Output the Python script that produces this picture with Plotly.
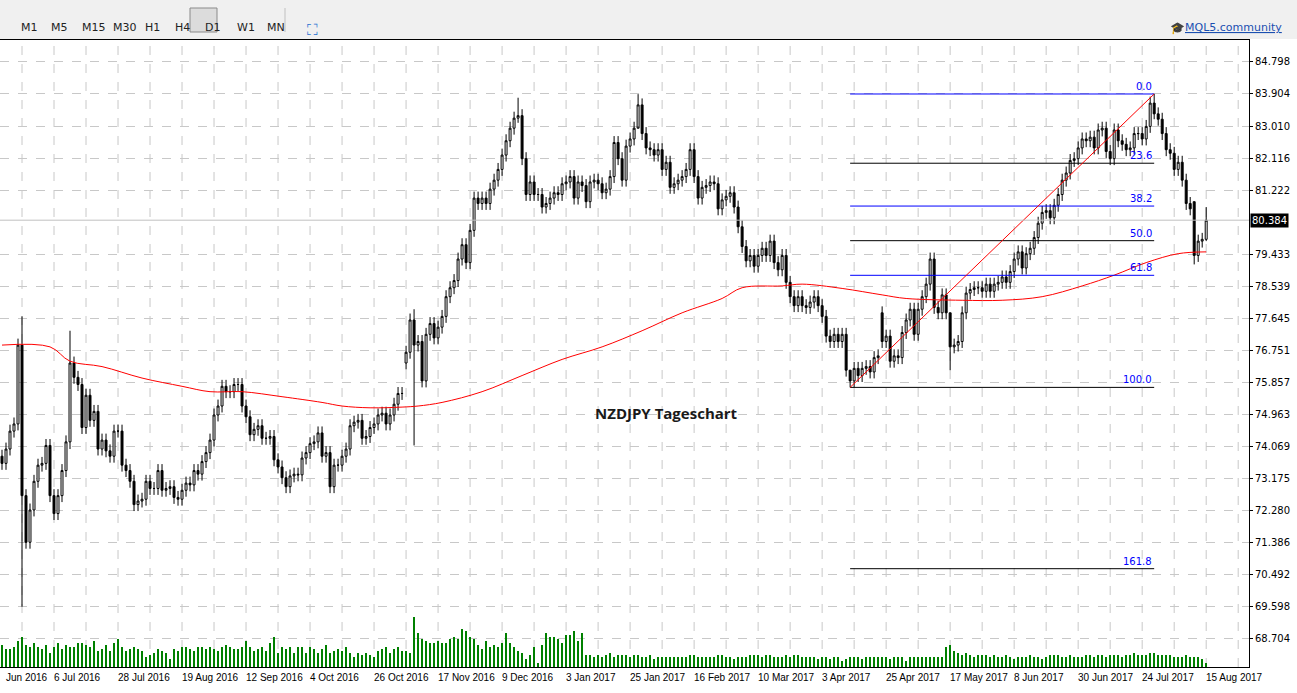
import plotly.graph_objects as go

closes = [73.6,74.0,74.5,74.7,76.9,72.7,71.4,72.3,73.1,73.55,
73.6,74.1,72.7,72.2,72.7,73.4,74.2,76.4,76.0,75.8,
74.6,75.5,74.8,75.05,74.0,74.25,73.95,73.8,74.5,74.5,
73.55,73.4,73.1,72.45,72.55,72.6,73.1,72.9,72.9,73.4,
72.85,72.9,72.95,72.65,72.6,72.85,73.05,73.0,73.4,73.3,
73.65,73.9,74.25,74.95,75.2,75.75,75.6,75.6,75.8,75.8,
75.2,74.9,74.4,74.55,74.65,74.3,74.3,74.35,73.7,73.5,
73.2,72.95,73.25,73.3,73.28,73.75,73.9,74.15,74.2,74.45,
73.8,73.9,72.95,73.55,73.55,73.8,74.0,74.65,74.75,74.8,
74.3,74.35,74.6,74.7,74.95,75.0,74.7,74.95,75.25,75.55,
75.55,76.7,77.6,76.9,77.0,75.9,77.2,77.5,77.1,77.4,
77.7,78.25,78.5,78.7,79.3,79.7,79.2,80.1,81.0,80.85,
81.0,80.85,81.25,81.5,81.8,82.2,82.6,82.95,83.23,83.3,
82.1,81.1,81.45,81.1,81.1,80.75,80.85,81.0,81.15,81.1,
81.4,81.45,81.6,81.0,81.45,81.35,80.9,81.45,81.5,81.4,
81.15,81.25,81.6,82.55,82.1,81.5,82.45,82.65,82.95,83.6,
82.8,82.4,82.35,82.2,82.35,81.8,82.0,81.3,81.4,81.5,
81.6,81.8,82.35,81.6,81.0,81.3,81.35,81.45,81.4,80.7,
80.95,81.05,81.15,80.75,80.2,79.65,79.25,79.4,79.1,79.4,
79.6,79.4,79.8,79.2,79.0,79.4,78.65,78.25,78.0,78.25,
78.0,77.95,78.1,78.25,78.0,77.7,77.15,77.0,77.2,77.0,
77.2,76.2,75.9,76.25,76.05,76.25,76.3,76.15,76.55,76.6,
77.0,77.15,76.45,76.6,76.55,77.25,77.6,77.9,77.2,77.9,
78.25,78.6,79.3,77.95,77.8,78.3,77.8,76.85,76.9,77.0,
77.8,78.35,78.45,78.5,78.5,78.4,78.6,78.4,78.6,78.65,
78.8,78.65,78.95,79.3,79.5,79.05,79.45,79.6,79.9,80.3,
80.6,80.65,80.45,80.8,81.1,81.5,81.7,82.05,82.1,82.4,
82.65,82.6,82.7,82.4,82.9,82.95,82.3,82.1,82.9,82.6,
82.5,82.35,82.4,82.8,82.8,82.65,83.0,83.65,83.35,83.2,
82.8,82.35,82.25,81.8,82.0,81.5,80.85,80.7,79.4,79.8,
79.85,80.384]

open_overrides = {0: 73.8, 4: 74.7, 17: 74.2, 101: 76.4, 105: 77.0, 106: 75.9, 130: 83.3,
                  153: 81.6, 220: 77.8, 233: 79.3, 236: 78.3, 298: 80.9}
extreme_overrides = {5: (77.7, 69.6), 103: (77.9, 74.1), 17: (77.3, 74.0), 212: (75.9, 75.72),
                     288: (83.904, 83.2), 237: (77.8, 76.2), 298: (80.9, 79.15),
                     159: (83.9, 83.0), 129: (83.8, 83.1), 301: (80.75, 79.8)}

volumes = [22,18,18,20,26,30,22,20,24,20,18,22,14,20,24,18,22,20,20,24,
24,22,20,26,16,18,22,16,24,28,20,16,18,20,18,16,10,12,14,18,
16,14,8,18,16,20,20,18,16,20,20,18,20,18,16,20,22,20,18,18,
20,26,20,16,18,20,16,24,30,14,20,18,20,14,20,20,14,20,18,14,
18,22,14,16,18,16,20,14,10,14,12,14,12,10,16,18,20,14,18,20,
16,16,14,50,34,28,26,24,24,26,24,24,28,30,28,38,36,30,28,22,
18,26,20,22,20,24,34,24,20,16,14,8,12,20,4,22,34,30,30,28,
24,32,32,36,26,34,12,12,10,12,10,12,14,10,12,12,12,10,12,12,
10,10,12,8,10,10,10,10,10,10,10,10,12,12,10,10,10,10,10,12,
12,10,10,8,10,10,10,12,12,12,10,12,12,10,10,10,12,10,12,12,
10,10,10,10,8,10,10,8,10,10,6,8,10,10,10,8,10,10,10,10,
10,10,8,10,10,10,6,10,10,10,10,10,10,10,10,10,20,22,16,14,
12,14,12,10,12,12,12,10,12,10,10,12,10,8,10,10,10,12,10,10,
8,10,12,12,12,10,10,12,10,10,10,12,12,10,12,12,10,12,12,12,
10,12,12,14,12,12,12,14,14,12,12,12,12,10,10,10,12,10,10,10,8,4]

ma_idx = [0,12,17,25,35,45,52,60,70,80,85,92,100,104,110,120,130,140,150,160,170,180,185,
          195,200,210,220,226,240,250,260,270,278,286,294,301]
ma_val = [76.9,76.85,76.45,76.3,75.98,75.75,75.6,75.6,75.46,75.3,75.2,75.15,75.17,75.2,75.3,
          75.6,76.05,76.5,76.85,77.3,77.8,78.2,78.5,78.55,78.6,78.48,78.3,78.2,78.15,78.15,
          78.25,78.55,78.85,79.2,79.45,79.5]

fib_low, fib_high = 75.72, 83.904
fib_start, fib_end = 212, 288
fib_levels = [0.0, 23.6, 38.2, 50.0, 61.8, 100.0, 161.8]
fib_colors = ["#0000ff", "#000000", "#0000ff", "#000000", "#0000ff", "#000000", "#000000"]

tick_idx = [13 + 16 * k for k in range(19)]
tick_text = ["6 Jul 2016", "28 Jul 2016", "19 Aug 2016", "12 Sep 2016", "4 Oct 2016",
             "26 Oct 2016", "17 Nov 2016", "9 Dec 2016", "3 Jan 2017", "25 Jan 2017",
             "16 Feb 2017", "10 Mar 2017", "3 Apr 2017", "25 Apr 2017", "17 May 2017",
             "8 Jun 2017", "30 Jun 2017", "24 Jul 2017", "15 Aug 2017"]
y_ticks = [84.798, 83.904, 83.010, 82.116, 81.222, 79.433, 78.539, 77.645, 76.751,
           75.857, 74.963, 74.069, 73.175, 72.280, 71.386, 70.492, 69.598, 68.704]
last_price = 80.384

n = len(closes)
x = list(range(n))
opens, highs, lows = [], [], []
for i in range(n):
    o = open_overrides.get(i, closes[i - 1] if i > 0 else closes[0])
    opens.append(o)
    if i in extreme_overrides:
        h, l = extreme_overrides[i]
    else:
        h, l = max(o, closes[i]) + 0.18, min(o, closes[i]) - 0.18
    highs.append(h)
    lows.append(l)

fig = go.Figure()
fig.add_trace(go.Bar(x=x, y=volumes, yaxis="y2", marker=dict(color="#008000", line=dict(width=0)),
                     width=0.25, showlegend=False, hoverinfo="skip"))
fig.add_trace(go.Candlestick(x=x, open=opens, high=highs, low=lows, close=closes,
                             increasing=dict(line=dict(color="black", width=1), fillcolor="white"),
                             decreasing=dict(line=dict(color="black", width=1), fillcolor="black"),
                             whiskerwidth=0, showlegend=False))
fig.add_trace(go.Scatter(x=ma_idx, y=ma_val, mode="lines", line=dict(color="#ff0000", width=1),
                         showlegend=False, line_shape="spline"))

shapes, annots = [], []
rng = fib_high - fib_low
for lv, col in zip(fib_levels, fib_colors):
    yv = fib_high - rng * lv / 100
    shapes.append(dict(type="line", x0=fib_start, x1=fib_end, y0=yv, y1=yv, xref="x", yref="y",
                       line=dict(color=col, width=1)))
    annots.append(dict(x=fib_end, y=yv, xref="x", yref="y", text=f"{lv:.1f}", showarrow=False,
                       xanchor="right", yanchor="bottom", font=dict(color="#0000ff", size=10,
                       family="DejaVu Sans")))
shapes.append(dict(type="line", x0=fib_start, x1=fib_end, y0=fib_low, y1=fib_high,
                   line=dict(color="#ff0000", width=1)))
shapes.append(dict(type="line", x0=0, x1=1, xref="paper", y0=last_price, y1=last_price, yref="y",
                   line=dict(color="#c0c0c0", width=1)))
for t in range(5, 320, 8):
    shapes.append(dict(type="line", x0=t, x1=t, y0=0, y1=1, xref="x", yref="paper",
                       line=dict(color="#c8c8c8", width=1, dash="dash"), layer="below"))
for t, lab in zip(tick_idx, tick_text):
    annots.append(dict(x=t, y=0, xref="x", yref="paper", text=lab,
                       showarrow=False, xanchor="left", yanchor="top", xshift=-2, yshift=-3,
                       font=dict(size=10, family="Liberation Sans", color="black")))
annots.append(dict(x=0.6, y=0, xref="x", yref="paper", text="Jun 2016", showarrow=False,
                   xanchor="left", yanchor="top", yshift=-3,
                   font=dict(size=10, family="Liberation Sans", color="black")))
annots.append(dict(x=1.001, y=last_price, xref="paper", yref="y", text="80.384", showarrow=False,
                   xanchor="left", bgcolor="black", borderpad=1,
                   font=dict(color="white", size=10, family="DejaVu Sans")))
annots.append(dict(x=166, y=75.01, xref="x", yref="y", text="<b>NZDJPY Tageschart</b>", showarrow=False,
                   font=dict(size=15, family="Open Sans", color="#1a1a1a")))

# toolbar
H = 627.0
def py(p):
    return (667 - p) / H
W = 1249.0
btns = [("M1", 19), ("M5", 49), ("M15", 80), ("M30", 111), ("H1", 143), ("H4", 173),
        ("D1", 203), ("W1", 235), ("MN", 265)]
shapes.append(dict(type="rect", x0=0, x1=1297 / W, y0=py(39), y1=py(0), xref="paper", yref="paper",
                   fillcolor="#f0f0f0", line=dict(width=0), layer="below"))
shapes.append(dict(type="rect", x0=190 / W, x1=217 / W, y0=py(32), y1=py(8), xref="paper",
                   yref="paper", fillcolor="#dcdcdc", line=dict(color="#8a8a8a", width=1)))
shapes.append(dict(type="line", x0=285 / W, x1=285 / W, y0=py(32), y1=py(8), xref="paper",
                   yref="paper", line=dict(color="#c0c0c0", width=1)))
for t, px in btns:
    annots.append(dict(x=px / W, y=py(19), xref="paper", yref="paper", text=t, showarrow=False,
                       font=dict(size=11, family="DejaVu Sans", color="#222")))
annots.append(dict(x=305 / W, y=py(19), xref="paper", yref="paper", text="⛶", showarrow=False,
                   font=dict(size=15, color="#1e6fd0")))
annots.append(dict(x=1284 / W, y=py(19), xref="paper", yref="paper", text="<u>MQL5.community</u>",
                   showarrow=False, xanchor="right", font=dict(size=11, family="DejaVu Sans", color="#1a4fb0")))
annots.append(dict(x=1187 / W, y=py(19), xref="paper", yref="paper", text="🎓", showarrow=False,
                   font=dict(size=12, color="#1a4fb0")))

fig.update_layout(
    width=1297, height=693, margin=dict(l=0, r=48, t=40, b=26, autoexpand=False),
    paper_bgcolor="white", plot_bgcolor="white",
    shapes=shapes, annotations=annots, bargap=0,
    xaxis=dict(range=[-0.5, 311.7], showgrid=False, showticklabels=False, zeroline=False,
               rangeslider=dict(visible=False), showline=True, linecolor="black", mirror=True,
               fixedrange=True),
    yaxis=dict(side="right", range=[67.92, 85.41], tickvals=y_ticks,
               ticktext=[f"{v:.3f}" for v in y_ticks], showgrid=True, gridcolor="#c8c8c8",
               griddash="dash", ticks="outside", ticklen=3, tickcolor="black",
               tickfont=dict(size=10, family="DejaVu Sans", color="black"),
               showline=True, linecolor="black", mirror=True, zeroline=False),
    yaxis2=dict(overlaying="y", range=[0, 627], visible=False),
    font=dict(family="DejaVu Sans"),
)
fig.write_html("out.html", config={"displayModeBar": False},
               post_script="document.body.style.margin='0';document.body.style.overflow='hidden';")
